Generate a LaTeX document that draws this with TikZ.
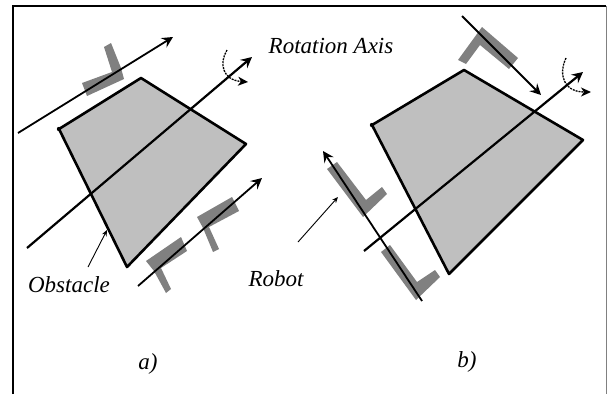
\documentclass[tikz,border=0pt]{standalone}
\usepackage{fontspec}
\setmainfont{Liberation Serif}
\usepackage{tkz-euclide}
\usetikzlibrary{arrows,arrows.meta}
\definecolor{ObstacleClr}{gray}{0.75}
\definecolor{RobotClr}{gray}{0.5}
\tikzset{
  axisline/.style={line width=1.8pt,-{Stealth[length=11pt,width=11pt,inset=4pt]}},
  spinline/.style={line width=1.3pt,dash pattern=on 2pt off 1pt,-{Stealth[length=10pt,width=9pt,inset=3pt]}},
  pointer/.style={line width=0.9pt,-{Stealth[length=6pt,width=5pt]}},
  caption/.style={font=\itshape\fontsize{23}{23}\selectfont,inner sep=0pt},
}

\begin{document}
\begin{tikzpicture}[x=1pt,y=-1pt]
\useasboundingbox (0,0) rectangle (607,394);
\fill[white] (0,0) rectangle (607,394);

\draw[line width=2.4pt] (13,394) -- (13,6) -- (606,6);
\draw[line width=1pt,gray] (606,6) -- (606,394);

\tkzDefPoints{141/78/A,59/129/B,127/267/C,246/144/D}
\tkzDefPoints{464/70/E,372/125/F,449/274/G,583/140/H}

\tkzDefPoints{18/133/Pa,173/37/Pb,138/286/Pc,262/178/Pd,27/248/Pe,252/57/Pf}
\tkzDefPoints{462/16/Qa,541/95/Qb,422/301/Qc,323/151/Qd,364/251/Qe,583/72/Qf}

\tkzDefPoints{88/267/Oa,107/230/Ob,298/242/Ra,338/197/Rb}

\tkzFillPolygon[fill=ObstacleClr](A,B,C,D)
\tkzFillPolygon[fill=ObstacleClr](E,F,G,H)

\fill[RobotClr] (82,83) -- (112,72) -- (104,47) -- (111,43) -- (121,68) -- (124,79) -- (87,96) -- cycle;
\fill[RobotClr] (146,261) -- (181,237) -- (187,251) -- (161,268) -- (171,289) -- (166,293) -- (154,271) -- cycle;
\fill[RobotClr] (197,217) -- (232,197) -- (239,211) -- (209,227) -- (219,249) -- (213,252) -- (203,228) -- cycle;

\fill[RobotClr] (482,27) -- (518,58) -- (509,69) -- (480,45) -- (466,64) -- (458,60) -- cycle;
\fill[RobotClr] (327,169) -- (337,162) -- (366,200) -- (382,187) -- (387,194) -- (363,217) -- cycle;
\fill[RobotClr] (381,252) -- (390,245) -- (417,282) -- (435,270) -- (440,277) -- (416,300) -- cycle;

\tkzDrawPolygon[line width=2.6pt,color=black,line join=round](A,B,C,D)
\tkzDrawPolygon[line width=2.6pt,color=black,line join=round](E,F,G,H)
\fill (B) circle (2.2pt);
\fill (F) circle (2.2pt);

\draw[axisline] (Pa) -- (Pb);
\draw[axisline] (Pc) -- (Pd);
\draw[axisline,line width=2.2pt] (Pe) -- (Pf);
\draw[axisline] (Qa) -- (Qb);
\draw[axisline] (Qc) -- (Qd);
\draw[axisline,line width=2.2pt] (Qe) -- (Qf);

\draw[spinline] (227,50) .. controls (219,63) and (222,80) .. (248,82);
\draw[spinline] (566,58) .. controls (558,75) and (564,92) .. (591,92);

\draw[pointer] (Oa) -- (Ob);
\draw[pointer] (Ra) -- (Rb);

\node[caption] (rotlabel) at (331,46) {Rotation Axis};
\node[caption] (obslabel) at (69,285) {Obstacle};
\node[caption] (roblabel) at (276,279) {Robot};
\node[caption] (alabel) at (148,364) {a)};
\node[caption] (blabel) at (467,362) {b)};

\end{tikzpicture}
\end{document}
